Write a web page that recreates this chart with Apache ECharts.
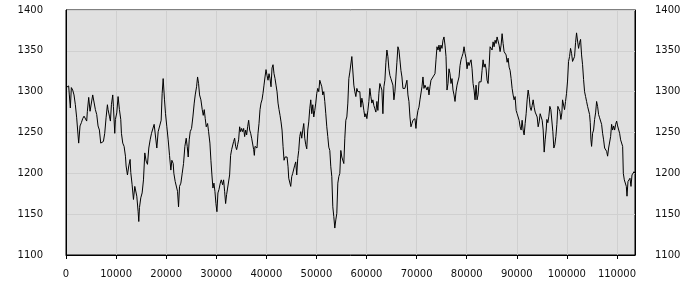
<!DOCTYPE html>
<html>
<head>
<meta charset="utf-8">
<script src="https://cdn.jsdelivr.net/npm/echarts@6/dist/echarts.min.js"></script>
<style>
html,body{margin:0;padding:0;background:#fff;}
#chart{width:700px;height:300px;}
</style>
</head>
<body>
<div id="chart"></div>
<script>
// x positions (sample index)
var sampleX = [
0,267,533,667,867,1067,1333,1600,1867,2133,2400,2533,2800,3067,3333,3600,3867,4133,4267,4533,4800,5067,5333,5600,5867,6133,6400,6667,6933,7200,7467,7733,8000,8267,8400,8667,8867,9067,9333,9467,9733,9867,10133,10400,10667,10933,11067,11333,11600,11867,12000,12267,12533,12800,12933,13200,13467,13733,14000,14133,14400,14533,14667,14933,15200,15467,15733,16000,16267,16533,16800,17067,17333,17600,17867,18133,18400,
19000,19200,19400,19667,19867,20133,20400,20667,20933,21133,21400,21533,21800,22067,22267,22467,22667,22933,23200,23467,23733,24000,24200,24400,24600,24800,25067,25333,25600,25800,26067,26267,26467,26667,26933,27200,27400,27600,27800,28000,28267,28467,28733,28933,29133,29333,29533,29733,29933,30133,30333,30533,30800,31000,31267,31467,
31667,31867,32067,32267,32467,32667,32867,33067,33267,33467,33667,33867,34067,34267,34467,34667,34867,35067,35267,35467,35667,35867,36067,36267,36467,36667,36867,37067,37267,37467,37600,37733,37933,38133,38333,38533,38733,38933,39133,39333,39533,39733,39933,40133,40333,40533,40733,40933,41133,41333,41533,41733,41933,42133,42333,42533,42733,42933,43133,43333,43533,43733,43933,44133,44333,44467,
44667,44867,45067,45267,45467,45667,45867,46067,46267,46467,46667,46867,47067,47267,47467,47667,47867,48067,48267,48467,48667,48867,49067,49267,49467,49667,49867,50067,50267,50467,50667,50867,51067,51267,51467,51667,51867,52067,52267,52467,52667,52867,53067,53267,53467,53667,53867,54067,54267,54467,54667,54867,55067,55267,55467,55667,55867,56067,56267,56467,56667,56867,57067,57267,
57467,57667,57867,58067,58267,58467,58667,58867,59067,59267,59467,59667,59867,60067,60267,60467,60667,60867,61067,61267,61467,61667,61867,62067,62267,62467,62667,62867,63067,63267,63467,63667,63867,64067,64267,64467,64667,64867,65067,65267,65467,65667,65867,66067,66267,66467,66667,66867,67067,67267,67467,67667,67867,68067,68267,68467,68667,68867,69067,69267,69467,69667,69867,70067,70267,
70467,70667,70867,71067,71267,71467,71667,71867,72067,72267,72467,72667,72867,73067,73267,73467,73667,73867,74067,74267,74467,74667,74867,75067,75267,75467,75667,75867,76067,76267,76467,76667,76867,77067,77267,77467,77667,77867,78067,78267,78467,78667,78867,79067,79267,79467,79667,79867,80067,80267,80467,80667,80867,81067,81267,81467,81667,81867,82067,82267,82467,82667,82867,83067,83267,83467,
83667,83867,84067,84267,84467,84667,84867,85067,85267,85467,85667,85867,86067,86267,86467,86667,86867,87067,87267,87467,87667,87867,88067,88267,88467,88667,88867,89067,89267,89467,89667,89867,90067,90267,90467,90667,90867,91067,91267,91467,91667,91867,92067,92267,92467,92667,92867,93067,93267,93467,93667,93867,94067,94267,94467,94667,94867,95067,95267,95467,95667,95867,
96000,96200,96400,96600,96800,97000,97200,97400,97600,97800,98000,98200,98400,98600,98800,99000,99133,99333,99533,99733,99933,100133,100333,100533,100733,100933,101133,101333,101533,101733,101933,102133,102333,102533,102733,102933,103133,103333,103533,103733,103933,104133,104333,104533,104667,104800,104933,105133,105333,105533,105733,105933,106133,106333,106533,106733,106933,107133,107333,107533,107733,107933,108133,108333,108533,108733,108933,109133,109333,109533,109733,109933,110133,110333,110533,110733,110933,111133,111267,111467,111667,111867,112000,112200,112400,112600,112800,113000,113200,113400,113600
];
// series values
var price = [
1305,1307,1307,1296,1280,1305,1302,1296,1284,1268,1247,1237,1258,1262,1267,1270,1272,1264,1276,1293,1276,1278,1296,1298,1278,1272,1258,1253,1237,1235,1239,1249,1268,1284,1278,1270,1264,1284,1296,1282,1249,1266,1274,1294,1278,1266,1249,1237,1233,1221,1209,1198,1209,1217,1201,1186,1168,1184,1184,1172,1153,1141,1158,1170,1176,1192,1225,1215,1211,1231,1241,1249,1247,1260,1258,1231,1251,
1265,1298,1316,1290,1273,1257,1241,1222,1204,1216,1212,1200,1190,1192,1178,1159,1184,1188,1200,1212,1233,1243,1233,1220,1241,1251,1255,1269,1286,1296,1306,1318,1310,1296,1290,1278,1271,1278,1267,1257,1261,1251,1237,1216,1198,1182,1188,1178,1163,1153,1176,1180,1188,1192,1186,1192,
1178,1163,1174,1182,1184,1198,1222,1229,1227,1239,1243,1233,1229,1235,1241,1257,1251,1255,1251,1255,1245,1253,1247,1257,1265,1253,1249,1243,1245,1229,1222,1233,1235,1231,1249,1261,1278,1286,1290,1298,1308,1318,1327,1320,1314,1322,1316,1306,1329,1333,1322,1316,1308,1300,1286,1278,1271,1263,1253,1233,1216,1220,1218,1220,1208,1194,
1196,1184,1196,1200,1202,1210,1214,1198,1218,1228,1245,1251,1243,1253,1261,1243,1235,1230,1253,1263,1279,1290,1273,1284,1269,1277,1286,1298,1304,1300,1314,1316,1306,1296,1300,1288,1273,1257,1245,1232,1228,1208,1196,1159,1147,1133,1143,1151,1188,1196,1200,1228,1220,1218,1212,1243,1265,1269,1286,1316,1324,1322,1343,1345,
1308,1300,1294,1304,1300,1302,1300,1281,1292,1286,1277,1269,1273,1267,1277,1288,1304,1294,1286,1290,1283,1279,1275,1288,1277,1298,1310,1306,1302,1273,1306,1314,1336,1351,1343,1328,1320,1316,1318,1308,1290,1300,1318,1336,1355,1351,1339,1326,1318,1304,1302,1304,1306,1314,1296,1288,1269,1257,1261,1265,1265,1267,1255,1269,1277,
1281,1290,1292,1306,1318,1304,1308,1306,1302,1306,1296,1306,1314,1316,1318,1316,1322,1339,1355,1351,1357,1349,1357,1353,1363,1367,1357,1343,1302,1310,1328,1322,1310,1316,1302,1296,1288,1300,1308,1306,1318,1332,1339,1343,1347,1355,1347,1341,1328,1336,1332,1336,1339,1328,1310,1302,1290,1308,1290,1296,1312,1314,1312,1326,1339,1330,
1334,1328,1314,1310,1330,1355,1357,1351,1361,1355,1363,1359,1367,1369,1357,1349,1357,1371,1359,1349,1351,1345,1336,1341,1330,1326,1316,1304,1296,1290,1294,1277,1273,1269,1265,1257,1253,1265,1253,1247,1261,1273,1290,1302,1294,1281,1277,1283,1290,1281,1275,1277,1269,1257,1263,1273,1269,1265,1253,1226,1241,1253,
1266,1262,1270,1282,1278,1278,1251,1231,1235,1245,1260,1282,1280,1276,1266,1274,1290,1292,1278,1288,1298,1313,1337,1343,1353,1347,1337,1337,1343,1360,1372,1362,1353,1360,1364,1345,1333,1315,1300,1294,1288,1282,1280,1272,1262,1241,1233,1249,1253,1266,1274,1288,1282,1272,1268,1268,1260,1249,1241,1231,1229,1227,1221,1231,1233,1245,1260,1253,1258,1253,1260,1264,1258,1260,1249,1241,1239,1233,1200,1192,1190,1184,1172,1190,1190,1194,1184,1198,1200,1202,1200
];
var yTicks = [1100, 1150, 1200, 1250, 1300, 1350, 1400];
var xTicks = [0, 10000, 20000, 30000, 40000, 50000, 60000, 70000, 80000, 90000, 100000, 110000];

var data = [];
for (var i = 0; i < price.length && i < sampleX.length; i++) data.push([sampleX[i], price[i]]);

var chart = echarts.init(document.getElementById('chart'), null, {renderer: 'canvas'});
var plain = function (v) { return String(v); };
var labelFont = {fontFamily: 'DejaVu Sans', fontSize: 10, color: '#111', formatter: plain};
var yBase = {
  type: 'value', min: yTicks[0], max: yTicks[yTicks.length - 1], interval: 50,
  axisLine: {show: true, lineStyle: {color: '#000', width: 1}},
  axisTick: {show: false},
  splitLine: {show: true, lineStyle: {color: '#d0d0d0', width: 1}}
};
chart.setOption({
  animation: false,
  backgroundColor: '#ffffff',
  grid: {left: 66, right: 65, top: 10, bottom: 45, show: true, backgroundColor: '#e0e0e0', borderColor: '#000', borderWidth: 1},
  xAxis: {
    type: 'value', min: 0, max: 113600, interval: 10000,
    axisLine: {show: true, lineStyle: {color: '#000', width: 1}},
    axisTick: {show: true, length: 4, lineStyle: {color: '#000'}, customValues: xTicks},
    axisLabel: Object.assign({margin: 14, customValues: xTicks}, labelFont),
    splitLine: {show: true, lineStyle: {color: '#d0d0d0', width: 1}}
  },
  yAxis: [
    Object.assign({}, yBase, {position: 'left', axisLabel: Object.assign({margin: 23}, labelFont)}),
    Object.assign({}, yBase, {position: 'right', splitLine: {show: false}, axisLabel: Object.assign({margin: 20, align: 'left'}, labelFont)})
  ],
  series: [{
    type: 'line', data: data, yAxisIndex: 0, showSymbol: false, symbol: 'none',
    lineStyle: {color: '#000', width: 1}
  }]
});
</script>
</body>
</html>
